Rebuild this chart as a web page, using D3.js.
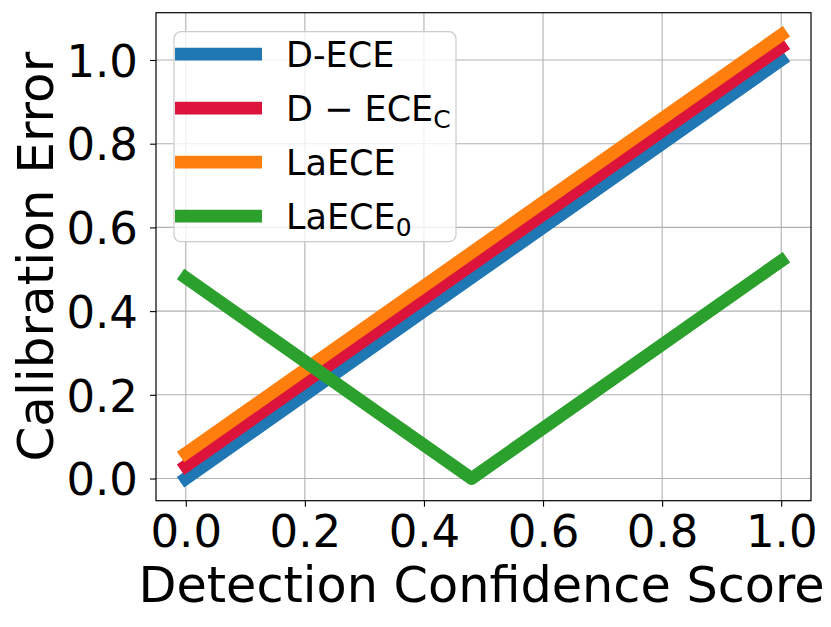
<!DOCTYPE html>
<html>
<head>
<meta charset="utf-8">
<script src="https://cdn.jsdelivr.net/npm/d3@7"></script>
<style>
  body { margin: 0; background: #fff; }
  svg { display: block; font-family: "DejaVu Sans", sans-serif; }
</style>
</head>
<body>
<div id="chart"></div>
<script>
// --------------------------------------
//  Data
// --------------------------------------

const scores = [0, 0.48, 1];
const dECE = [0, 0.48, 1];
const dECEc = [0.03, 0.51, 1.03];
const laECE = [0.06, 0.54, 1.06];
const laECE0 = [0.48, 0, 0.52];

const xTicks = [0, 0.2, 0.4, 0.6, 0.8, 1.0];
const yTicks = [0, 0.2, 0.4, 0.6, 0.8, 1.0];

const series = [
  {name: "D-ECE", sub: null, values: dECE, color: "#1f77b4"},
  {name: "D \u2212 ECE", sub: "C", values: dECEc, color: "#dc143c"},
  {name: "LaECE", sub: null, values: laECE, color: "#ff7f0e"},
  {name: "LaECE", sub: "0", values: laECE0, color: "#2ca02c"}
];

// --------------------------------------
//  Margin and canvas
// --------------------------------------

const width = 831;
const height = 627;
const margin = {top: 12.7, right: 20, bottom: 126.3, left: 156};
const innerwidth = width - margin.left - margin.right;
const innerheight = height - margin.top - margin.bottom;

const svg = d3.select("#chart")
  .append("svg")
    .attr("width", width)
    .attr("height", height);

const innerChart = svg.append("g")
    .attr("transform", `translate(${margin.left}, ${margin.top})`);

// --------------------------------------
//  Scales
// --------------------------------------

const x = d3.scaleLinear()
    .domain([-0.05, 1.05])
    .range([0, innerwidth]);

const y = d3.scaleLinear()
    .domain([-0.053, 1.113])
    .range([innerheight, 0]);

const format = d3.format(".1f");

// --------------------------------------
//  Grid
// --------------------------------------

innerChart.append("g")
  .selectAll("line")
  .data(xTicks)
  .join("line")
    .attr("x1", d => x(d)).attr("x2", d => x(d))
    .attr("y1", 0).attr("y2", innerheight)
    .attr("stroke", "#b0b0b0").attr("stroke-width", 1.1);

innerChart.append("g")
  .selectAll("line")
  .data(yTicks)
  .join("line")
    .attr("y1", d => y(d)).attr("y2", d => y(d))
    .attr("x1", 0).attr("x2", innerwidth)
    .attr("stroke", "#b0b0b0").attr("stroke-width", 1.1);

// --------------------------------------
//  Lines
// --------------------------------------

innerChart.append("clipPath").attr("id", "clip")
  .append("rect").attr("width", innerwidth).attr("height", innerheight);

const line = d3.line()
    .x((d, i) => x(scores[i]))
    .y(d => y(d));

innerChart.append("g")
    .attr("clip-path", "url(#clip)")
  .selectAll("path")
  .data(series)
  .join("path")
    .attr("d", d => line(d.values))
    .attr("fill", "none")
    .attr("stroke", d => d.color)
    .attr("stroke-width", 12.8)
    .attr("stroke-linecap", "square")
    .attr("stroke-linejoin", "round");

// --------------------------------------
//  Axes
// --------------------------------------

const xAxis = innerChart.append("g")
    .attr("transform", `translate(0, ${innerheight})`)
    .call(d3.axisBottom(x).tickValues(xTicks).tickSize(6).tickPadding(8).tickFormat(format));

const yAxis = innerChart.append("g")
    .call(d3.axisLeft(y).tickValues(yTicks).tickSize(6).tickPadding(12).tickFormat(format));

[xAxis, yAxis].forEach(a => {
  a.select(".domain").remove();
  a.selectAll(".tick line").attr("stroke", "#000").attr("stroke-width", 1.1);
  a.selectAll(".tick text")
    .attr("fill", "#000")
    .style("font-family", "DejaVu Sans")
    .style("font-size", "45px");
});
xAxis.selectAll(".tick text").attr("dy", "0.72em");
yAxis.selectAll(".tick text").attr("dy", "0.36em");

innerChart.append("rect")
    .attr("width", innerwidth).attr("height", innerheight)
    .attr("fill", "none").attr("stroke", "#000").attr("stroke-width", 1.2);

// axis labels
svg.append("text")
    .attr("x", margin.left + innerwidth / 2 - 2)
    .attr("y", 602)
    .attr("text-anchor", "middle")
    .style("font-size", "49.3px")
    .text("Detection Confidence Score");

svg.append("text")
    .attr("transform", `translate(53, ${margin.top + innerheight / 2}) rotate(-90)`)
    .attr("text-anchor", "middle")
    .style("font-size", "50px")
    .text("Calibration Error");

// --------------------------------------
//  Legend
// --------------------------------------

const legend = innerChart.append("g")
    .attr("transform", "translate(18, 19)");

legend.append("rect")
    .attr("width", 282).attr("height", 210)
    .attr("rx", 7)
    .attr("fill", "#fff").attr("fill-opacity", 0.8)
    .attr("stroke", "#cccccc").attr("stroke-width", 1.2);

const rows = legend.selectAll("g.row")
  .data(series)
  .join("g")
    .attr("class", "row")
    .attr("transform", (d, i) => `translate(0, ${22.5 + i * 54})`);

rows.append("line")
    .attr("x1", 1).attr("x2", 88)
    .attr("stroke", d => d.color)
    .attr("stroke-width", 12.8);

const labels = rows.append("text")
    .attr("x", 112)
    .attr("y", 12.7)
    .style("font-size", "35px");

labels.append("tspan").text(d => d.name);
labels.filter(d => d.sub).append("tspan")
    .attr("dy", 7)
    .style("font-size", "25px")
    .text(d => d.sub);
</script>
</body>
</html>
